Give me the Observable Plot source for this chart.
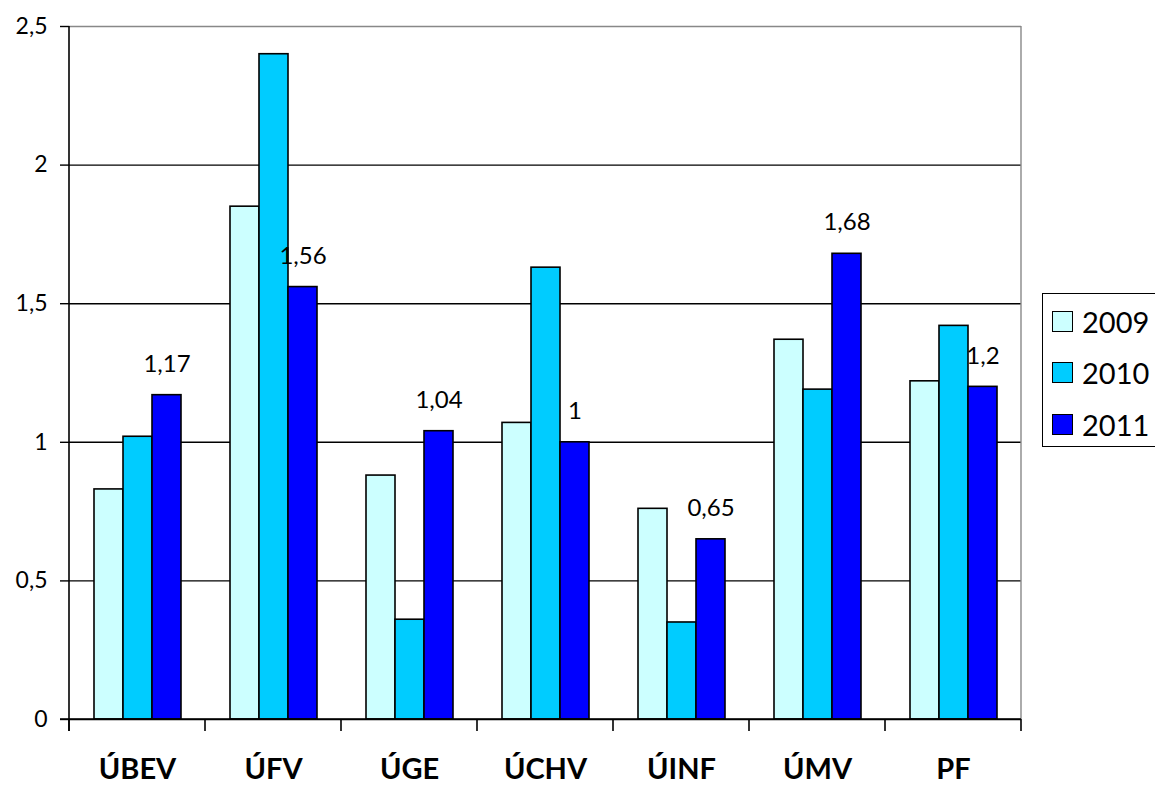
<!DOCTYPE html>
<html>
<head>
<meta charset="utf-8">
<script src="https://cdn.jsdelivr.net/npm/d3@7"></script>
<script src="https://cdn.jsdelivr.net/npm/@observablehq/plot@0.6"></script>
<style>
  body { margin: 0; background: white; }
  #wrap { position: relative; width: 1155px; height: 787px; overflow: hidden; font-family: Lato, "DejaVu Sans", sans-serif; }
  #legend { position: absolute; left: 1042px; top: 293px; width: 140px; height: 154px; border: 1.5px solid black; background: white; box-sizing: border-box; }
  .row { position: absolute; left: 9px; height: 30px; display: flex; align-items: center; font-size: 29px; color: black; }
  .sw { width: 19px; height: 19px; border: 1.5px solid black; margin-right: 9px; }
</style>
</head>
<body>
<div id="wrap"></div>
<script>
const categories = ["ÚBEV", "ÚFV", "ÚGE", "ÚCHV", "ÚINF", "ÚMV", "PF"];
const years = ["2009", "2010", "2011"];
const values2009 = [0.83, 1.85, 0.88, 1.07, 0.76, 1.37, 1.22];
const values2010 = [1.02, 2.40, 0.36, 1.63, 0.35, 1.19, 1.42];
const values2011 = [1.17, 1.56, 1.04, 1.00, 0.65, 1.68, 1.20];
const colors = ["#CCFFFF", "#00CCFF", "#0000FF"];
const yTicks = [0, 0.5, 1, 1.5, 2, 2.5];
const gridValues = [0.5, 1, 1.5, 2];
const labelledYear = "2011";

const series = [values2009, values2010, values2011];
const data = [];
categories.forEach((c, i) => years.forEach((y, j) => data.push({cat: c, year: y, value: series[j][i]})));
const fmt = d => String(d).replace(".", ",");

const chart = Plot.plot({
  width: 1155, height: 787,
  marginLeft: 69, marginRight: 134, marginTop: 26, marginBottom: 68,
  style: {fontFamily: "Lato, 'DejaVu Sans', sans-serif", background: "white", overflow: "visible", color: "black"},
  fx: {domain: categories, padding: 0, label: null},
  x: {domain: years, paddingInner: 0, paddingOuter: 0.767, axis: null},
  y: {domain: [0, 2.5], ticks: yTicks, label: null},
  color: {domain: years, range: colors},
  marks: [
    Plot.ruleY(gridValues, {stroke: "black", strokeWidth: 1.4}),
    Plot.ruleY([2.5], {stroke: "#888", strokeWidth: 1.4}),
    Plot.axisY({ticks: yTicks, tickFormat: fmt, tickSize: 9, tickPadding: 13, fontSize: 23, label: null, strokeWidth: 1.4}),
    Plot.axisFx({anchor: "bottom", fontSize: 29, fontWeight: "bold", tickSize: 0, tickPadding: 39, label: null}),
    Plot.barY(data, {fx: "cat", x: "year", y: "value", fill: "year", stroke: "black", strokeWidth: 1.6}),
    Plot.ruleY([0], {stroke: "black", strokeWidth: 1.6}),
    Plot.text(data.filter(d => d.year === labelledYear), {fx: "cat", x: "year", y: "value", text: d => fmt(d.value), dy: -31, fontSize: 24, fill: "black"})
  ]
});

// axis lines and category boundary ticks from the plot's own scales
const fxS = chart.scale("fx");
const yS = chart.scale("y");
const svg = d3.select(chart.tagName === "svg" ? chart : chart.querySelector("svg"));
const y0 = yS.apply(0), yTop = yS.apply(2.5);
const bounds = categories.map(c => fxS.apply(c));
bounds.push(fxS.apply(categories[categories.length - 1]) + fxS.bandwidth);
const left = bounds[0], right = bounds[bounds.length - 1];
const g = svg.append("g");
g.append("line").attr("x1", right).attr("x2", right).attr("y1", yTop).attr("y2", y0).attr("stroke", "#888").attr("stroke-width", 1.4);
g.append("line").attr("x1", left).attr("x2", left).attr("y1", yTop).attr("y2", y0 + 12).attr("stroke", "black").attr("stroke-width", 1.6);
g.append("line").attr("x1", left - 9).attr("x2", right).attr("y1", y0).attr("y2", y0).attr("stroke", "black").attr("stroke-width", 1.6);
bounds.forEach(b => g.append("line").attr("x1", b).attr("x2", b).attr("y1", y0).attr("y2", y0 + 12).attr("stroke", "black").attr("stroke-width", 1.6));

const wrap = document.getElementById("wrap");
wrap.appendChild(chart);

const legend = document.createElement("div");
legend.id = "legend";
years.forEach((y, i) => {
  const row = document.createElement("div");
  row.className = "row";
  row.style.top = (12 + i * 51.5) + "px";
  const sw = document.createElement("div");
  sw.className = "sw";
  sw.style.background = colors[i];
  row.appendChild(sw);
  row.appendChild(document.createTextNode(y));
  legend.appendChild(row);
});
wrap.appendChild(legend);
</script>
</body>
</html>
